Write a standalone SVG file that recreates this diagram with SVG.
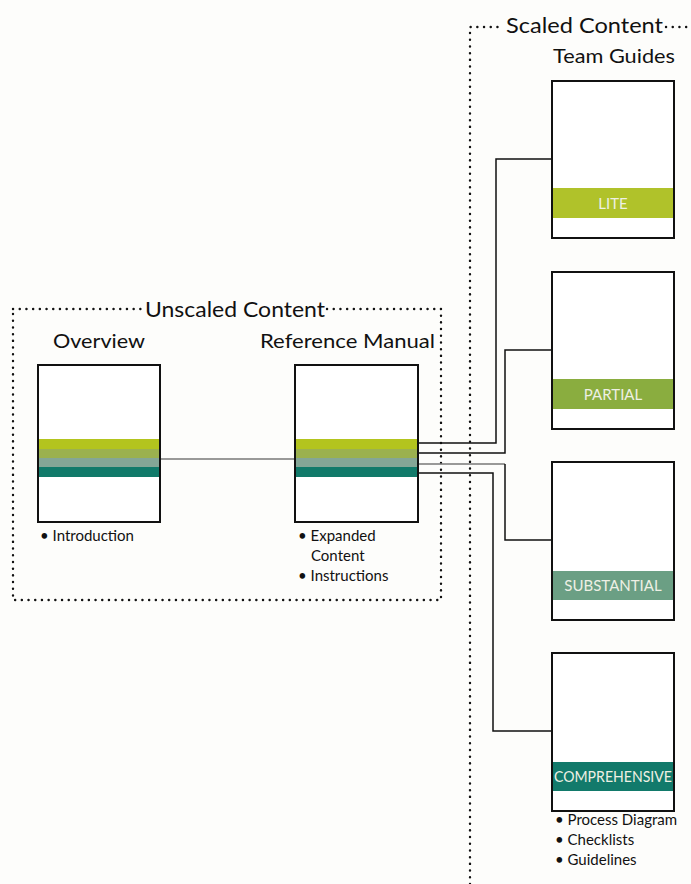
<svg xmlns="http://www.w3.org/2000/svg" width="691" height="884" viewBox="0 0 691 884">
<style>
.bg{fill:#fdfdfb}
.dot{fill:none;stroke:#111;stroke-width:2.4;stroke-linecap:round;stroke-dasharray:0.1 6.6}
.box{fill:#fff;stroke:#111;stroke-width:2}
.conn{fill:none;stroke:#111;stroke-width:1.5}
.connG{fill:none;stroke:#777;stroke-width:1.5}
.title{font-family:"Lato","Liberation Sans",sans-serif;font-size:21px;fill:#111}
.head{font-family:"Lato","Liberation Sans",sans-serif;font-size:19px;fill:#111}
.bul{font-family:"Lato","Liberation Sans",sans-serif;font-size:15px;fill:#111}
.band{font-family:"Lato","Liberation Sans",sans-serif;font-size:15px;fill:#eef0e4;text-anchor:middle}
</style>
<rect class="bg" x="0" y="0" width="691" height="884"/>

<g id="unscaled-group">
  <path class="dot" d="M13,309 H143 M327,309 H441 V600 H13 V309"/>
  <text class="title" x="145" y="317" textLength="180" lengthAdjust="spacingAndGlyphs">Unscaled Content</text>
</g>
<g id="scaled-group">
  <path class="dot" d="M470,884 V27 H503 M666,27 H691"/>
  <text class="title" x="506" y="33" textLength="157" lengthAdjust="spacingAndGlyphs">Scaled Content</text>
  <text class="head" x="553" y="63" textLength="122" lengthAdjust="spacingAndGlyphs">Team Guides</text>
</g>

<g id="connectors">
  <line class="connG" x1="160" y1="459" x2="295" y2="459"/>
  <polyline class="conn" points="418,443 496,443 496,159 552,159"/>
  <polyline class="conn" points="418,453 505,453 505,350 552,350"/>
  <polyline class="connG" points="418,464 505,464"/>
  <polyline class="conn" points="505,464 505,540 552,540"/>
  <polyline class="conn" points="418,473 493,473 493,731 552,731"/>
</g>

<g id="overview">
  <text class="head" x="53" y="348" textLength="92" lengthAdjust="spacingAndGlyphs">Overview</text>
  <rect class="box" x="38" y="365" width="122" height="157"/>
  <rect x="39" y="439" width="120" height="10" fill="#b3c41e"/>
  <rect x="39" y="449" width="120" height="9" fill="#9bb14f"/>
  <rect x="39" y="458" width="120" height="9" fill="#84a696"/>
  <rect x="39" y="467" width="120" height="10" fill="#117a6a"/>
  <text class="bul" x="40" y="541">• Introduction</text>
</g>

<g id="reference-manual">
  <text class="head" x="260" y="348" textLength="175" lengthAdjust="spacingAndGlyphs">Reference Manual</text>
  <rect class="box" x="295" y="365" width="123" height="157"/>
  <rect x="296" y="439" width="121" height="10" fill="#b3c41e"/>
  <rect x="296" y="449" width="121" height="9" fill="#9bb14f"/>
  <rect x="296" y="458" width="121" height="9" fill="#84a696"/>
  <rect x="296" y="467" width="121" height="10" fill="#117a6a"/>
  <text class="bul" x="298" y="541">• Expanded</text>
  <text class="bul" x="311" y="561">Content</text>
  <text class="bul" x="298" y="581">• Instructions</text>
</g>

<g id="lite">
  <rect class="box" x="552" y="81" width="122" height="157"/>
  <rect x="553" y="188" width="120" height="30" fill="#b0c22a"/>
  <text class="band" x="613" y="209">LITE</text>
</g>
<g id="partial">
  <rect class="box" x="552" y="272" width="122" height="157"/>
  <rect x="553" y="379" width="120" height="30" fill="#8aad3f"/>
  <text class="band" x="613" y="400">PARTIAL</text>
</g>
<g id="substantial">
  <rect class="box" x="552" y="462" width="122" height="158"/>
  <rect x="553" y="571" width="120" height="29" fill="#6b9f84"/>
  <text class="band" x="613" y="591">SUBSTANTIAL</text>
</g>
<g id="comprehensive">
  <rect class="box" x="552" y="653" width="122" height="158"/>
  <rect x="553" y="762" width="120" height="29" fill="#127a6b"/>
  <text class="band" x="613" y="782" textLength="118" lengthAdjust="spacingAndGlyphs">COMPREHENSIVE</text>
  <text class="bul" x="555" y="825">• Process Diagram</text>
  <text class="bul" x="555" y="845">• Checklists</text>
  <text class="bul" x="555" y="865">• Guidelines</text>
</g>
</svg>
